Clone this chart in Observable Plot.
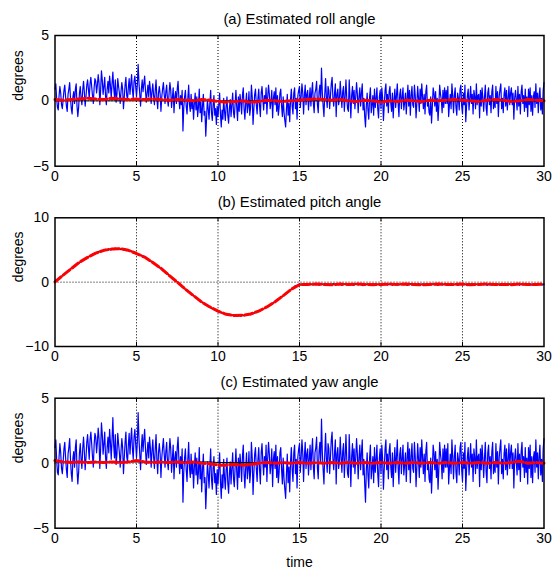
<!DOCTYPE html>
<html><head><meta charset="utf-8">
<script src="https://cdn.jsdelivr.net/npm/d3@7"></script>
<script src="https://cdn.jsdelivr.net/npm/@observablehq/plot@0.6"></script>
<style>
body{margin:0;background:#fff;}
#chart svg{display:block;}
</style>
</head><body><div id="chart"></div>
<script>
// ---------- data ----------
const panelTitles = ["(a) Estimated roll angle", "(b) Estimated pitch angle", "(c) Estimated yaw angle"];
const yLabel = "degrees";
const xLabel = "time";
const xTicks = [0, 5, 10, 15, 20, 25, 30];
const xGridLines = [5, 10, 15, 20, 25];
const rollTicks = [-5, 0, 5];
const pitchTicks = [-10, 0, 10];
const yawTicks = [-5, 0, 5];

const noisyStep = 0.05;   // seconds between roll / yaw measured samples
const pitchStep = 0.1;    // seconds between pitch measured samples
const estimateStep = 0.5; // seconds between estimate / true samples

// (a) roll: measured (blue)
const rollMeasured = [
0.9,1.3,0.2,-0.5,-0.7,0.4,1.1,0.6,-0.3,-0.6,
0.1,0.8,1.2,0.3,-0.4,-0.8,0.5,0.9,1.4,0.2,
-0.6,-1.0,0.3,0.7,-0.2,0.9,1.3,-0.4,-1.2,-0.5,
0.6,1.1,0.2,-0.3,0.8,1.5,0.7,-0.4,0.3,1.2,
1.6,0.9,0.2,1.3,1.8,1.1,0.4,-0.2,1.0,1.7,
1.5,0.6,1.2,2.0,1.4,-0.3,0.8,2.3,1.6,0.5,
1.1,1.8,0.4,-0.3,0.9,1.5,0.6,1.9,1.2,0.2,
1.3,2.2,1.0,0.3,1.6,-0.1,0.5,1.7,1.1,0.6,
-0.2,0.7,1.4,0.9,-0.6,0.3,1.2,1.8,0.4,0.1,
1.0,1.7,0.5,1.3,2.0,0.8,0.2,1.5,1.9,1.1,
0.3,1.2,2.8,1.4,0.5,-0.4,0.9,1.6,0.7,1.3,
1.9,0.8,-0.1,0.6,1.2,0.3,1.5,0.9,-0.2,0.7,
1.3,0.4,-0.3,0.8,1.6,0.2,-0.6,0.6,1.1,0.5,
-0.8,0.3,0.9,1.4,0.5,-0.2,0.7,1.2,0.1,-0.4,
0.6,1.4,0.8,-0.5,0.2,1.0,-0.9,0.3,0.7,-0.2,
0.9,1.5,0.2,-0.6,0.4,-0.3,0.8,-2.3,-0.5,0.3,
0.8,-0.4,-1.0,0.2,1.2,-0.3,-0.8,0.5,-0.6,0.1,
-1.4,-0.2,0.6,-0.7,0.3,-1.2,-0.5,0.9,-0.9,-0.1,
-1.6,-0.4,0.5,-1.1,-0.8,-2.7,-1.3,0.1,-0.6,-1.4,
-0.2,0.8,-0.9,-1.5,-0.3,0.4,-1.1,-0.6,-1.8,-0.4,
-1.2,-0.3,0.6,-1.0,-2.0,-0.7,-1.4,0.2,-0.8,-1.5,
-0.4,0.3,-1.1,-1.7,-0.6,0.1,-1.2,-0.3,0.6,-0.9,
-1.3,-0.2,0.8,-0.5,-1.5,0.3,-0.8,0.5,-0.1,-1.0,
0.4,1.0,-0.6,-1.4,-0.2,0.6,-0.9,-0.4,0.7,-1.1,
-0.5,1.2,0.3,-1.8,-0.6,0.5,0.9,-0.3,-1.0,0.2,
0.9,-0.4,-1.2,0.6,1.1,0.1,-0.7,0.4,-0.2,1.0,
-1.0,0.3,1.2,0.5,-0.6,-0.1,0.8,-1.3,0.2,0.7,
-0.3,1.0,-0.8,0.4,-1.1,-0.5,0.6,0.9,-0.4,-1.2,
0.3,-0.9,-1.5,-2.0,-0.6,0.5,-1.1,-0.2,-1.6,0.1,
0.9,-0.4,-1.0,0.6,1.0,-0.6,0.2,-1.4,0.4,0.8,
1.1,-0.5,0.3,1.3,0.6,-1.0,0.4,1.2,-0.3,0.5,
0.8,-0.7,0.2,1.0,-0.4,0.7,1.4,-0.2,-0.9,0.6,
0.9,1.5,-0.3,-0.9,0.7,1.2,0.1,2.5,0.6,-0.4,
-1.2,0.5,1.7,0.3,-0.5,1.1,0.8,-0.6,0.4,1.3,
1.8,0.2,-0.4,0.6,1.3,-1.2,0.5,0.9,-0.3,0.1,
1.5,0.4,-0.5,0.7,1.1,-0.8,0.3,1.6,0.2,-0.6,
-0.8,1.6,0.2,-1.3,0.4,1.1,-0.2,0.8,-0.6,0.3,
1.4,0.5,-0.9,0.3,1.0,-0.4,0.6,1.3,-0.7,0.2,
-1.2,-2.0,-0.4,0.6,-0.7,-1.4,0.3,1.0,-0.9,-0.3,
0.4,-1.1,0.9,-0.5,0.2,1.0,-0.6,-1.3,0.3,0.8,
-0.6,1.0,0.2,-1.5,-0.3,0.8,1.3,-0.4,0.5,-0.9,
0.7,1.1,-0.2,-0.8,0.6,-1.3,0.1,0.9,-0.5,0.4,
1.3,-0.2,-1.2,0.5,0.9,-0.6,0.3,1.0,-0.7,-0.1,
0.6,-1.0,0.2,1.2,-0.4,0.8,-1.1,0.4,1.1,-0.3,
-0.5,1.2,0.4,-1.3,-0.2,1.1,0.2,-0.8,0.9,-0.2,
1.3,0.3,-0.6,0.5,-1.0,0.7,1.2,-0.4,0.1,-0.9,
-1.1,0.3,-1.7,-0.4,1.0,0.6,-0.4,0.7,-0.8,0.2,
-1.5,-0.3,1.2,0.5,0.1,-0.9,0.8,-0.5,1.0,-0.2,
0.8,-0.2,1.1,-1.2,-0.3,0.5,-0.6,1.3,0.4,-0.9,
0.4,1.0,-0.5,-1.1,0.6,0.2,-0.7,0.9,1.2,-0.4,
-1.0,0.6,-0.3,1.2,-1.6,-0.4,0.4,0.9,-0.7,0.2,
1.1,-0.2,0.5,-1.0,0.8,0.3,-0.6,1.3,-0.3,0.4,
0.5,-1.3,0.8,-0.4,1.0,0.2,-0.8,0.3,1.2,-0.5,
-1.1,0.6,1.0,-0.3,0.4,-0.9,0.7,1.2,-0.6,0.1,
-0.5,1.1,-0.2,0.7,-1.2,0.3,0.9,1.3,-0.6,0.2,
-0.9,0.5,1.0,-0.4,0.8,-0.7,0.2,1.1,-0.3,0.6,
1.0,-0.3,0.6,-1.4,0.2,0.8,0.1,-0.7,1.1,-0.4,
0.5,-1.0,0.7,1.2,-0.2,0.4,-0.8,0.9,-0.5,0.3,
-1.2,0.9,-0.3,1.0,-0.8,0.4,-1.1,0.3,0.7,-0.5,
1.3,-0.2,0.6,-0.9,0.4,1.0,-0.7,0.2,-1.0,0.8,
1.4];
// (a) roll: estimate (red dashed)
const rollEstimate = [
0.1,0.05,0.1,0.15,0.2,0.15,0.1,0.2,0.15,0.1,0.15,
0.1,0.15,0.1,0.05,0.1,0.05,0.0,0.1,0.05,-0.05,
-0.1,-0.05,0.0,-0.1,-0.05,0.05,0.0,-0.05,0.0,0.05,
0.1,0.15,0.1,0.05,0.1,0.0,-0.05,0.05,0.0,-0.1,
0.0,-0.05,0.05,0.0,-0.05,0.05,0.0,0.05,0.1,0.05,
0.0,-0.05,0.05,0.1,0.05,-0.05,0.0,0.1,0.05,0.0];
// (a) roll: true (black)
const rollTrue = [0,0,0,0,0,0,0,0,0,0,0,0,0,0,0,0,0,0,0,0,0,0,0,0,0,0,0,0,0,0,0,
0,0,0,0,0,0,0,0,0,0,0,0,0,0,0,0,0,0,0,0,0,0,0,0,0,0,0,0,0,0];

// (b) pitch: measured (blue)
const pitchMeasured = [
0.05,0.1,0.5,0.55,0.95,1.0,1.35,1.4,1.8,1.85,
2.2,2.2,2.6,2.6,2.95,2.95,3.3,3.3,3.6,3.65,
3.8,4.1,4.05,4.35,4.3,4.6,4.5,4.8,4.7,4.95,
4.85,5.1,4.95,5.2,5.0,5.25,5.05,5.3,5.1,5.25,
5.05,5.2,5.0,5.15,4.9,5.0,4.8,4.85,4.6,4.65,
4.4,4.45,4.15,4.2,3.9,3.95,3.6,3.6,3.3,3.3,
2.95,2.95,2.6,2.6,2.2,2.2,1.8,1.8,1.4,1.4,
1.0,0.95,0.55,0.5,0.1,0.1,-0.3,-0.35,-0.75,-0.8,
-1.15,-1.2,-1.6,-1.6,-2.0,-2.05,-2.4,-2.4,-2.8,-2.8,
-3.15,-3.15,-3.5,-3.5,-3.8,-3.8,-4.1,-4.1,-4.35,-4.35,
-4.6,-4.55,-4.8,-4.75,-4.95,-4.9,-5.1,-5.0,-5.2,-5.1,
-5.3,-5.15,-5.3,-5.15,-5.3,-5.1,-5.25,-5.05,-5.15,-4.95,
-5.05,-4.8,-4.9,-4.65,-4.7,-4.4,-4.45,-4.2,-4.2,-3.95,
-3.9,-3.65,-3.6,-3.35,-3.25,-3.0,-2.9,-2.6,-2.55,-2.25,
-2.15,-1.85,-1.75,-1.45,-1.35,-1.05,-0.95,-0.6,-0.55,-0.45,
-0.3,-0.45,-0.25,-0.4,-0.3,-0.5,-0.25,-0.35,-0.45,-0.3,
-0.4,-0.25,-0.5,-0.3,-0.35,-0.45,-0.2,-0.4,-0.3,-0.5,
-0.35,-0.25,-0.45,-0.3,-0.4,-0.2,-0.5,-0.3,-0.35,-0.45,
-0.25,-0.4,-0.3,-0.5,-0.35,-0.25,-0.45,-0.3,-0.4,-0.55,
-0.3,-0.4,-0.25,-0.45,-0.35,-0.3,-0.5,-0.25,-0.4,-0.3,
-0.45,-0.3,-0.35,-0.2,-0.45,-0.35,-0.3,-0.5,-0.25,-0.4,
-0.3,-0.45,-0.35,-0.25,-0.4,-0.3,-0.5,-0.35,-0.25,-0.45,
-0.35,-0.3,-0.45,-0.25,-0.4,-0.35,-0.3,-0.5,-0.3,-0.4,
-0.25,-0.45,-0.3,-0.4,-0.35,-0.5,-0.25,-0.35,-0.45,-0.3,
-0.4,-0.3,-0.45,-0.25,-0.35,-0.4,-0.3,-0.5,-0.35,-0.25,
-0.45,-0.3,-0.4,-0.55,-0.3,-0.35,-0.25,-0.45,-0.3,-0.4,
-0.35,-0.45,-0.25,-0.4,-0.3,-0.5,-0.35,-0.3,-0.45,-0.25,
-0.4,-0.3,-0.35,-0.5,-0.25,-0.4,-0.3,-0.45,-0.35,-0.3,
-0.45,-0.25,-0.4,-0.35,-0.3,-0.5,-0.3,-0.4,-0.25,-0.45,
-0.35,-0.3,-0.45,-0.4,-0.25,-0.5,-0.35,-0.3,-0.4,-0.45,
-0.35];
// (b) pitch: estimate (red dashed)
const pitchEstimate = [
0.05,1.1,2.1,3.1,3.85,4.5,4.95,5.15,5.2,4.95,4.45,3.9,3.05,2.15,1.05,0.0,
-1.1,-2.1,-3.1,-3.85,-4.5,-5.0,-5.2,-5.15,-4.95,-4.5,-3.85,-3.05,-2.1,-1.1,-0.4,
-0.35,-0.3,-0.35,-0.4,-0.3,-0.35,-0.3,-0.35,-0.4,-0.35,-0.3,-0.35,-0.3,-0.35,-0.4,
-0.35,-0.3,-0.35,-0.35,-0.3,-0.4,-0.35,-0.3,-0.35,-0.35,-0.4,-0.3,-0.35,-0.35,-0.3];
// (b) pitch: true (black)
const pitchTrue = [
0,1.08,2.12,3.06,3.86,4.50,4.95,5.17,5.17,4.95,4.50,3.86,3.06,2.12,1.08,0,
-1.08,-2.12,-3.06,-3.86,-4.50,-4.95,-5.17,-5.17,-4.95,-4.50,-3.86,-3.06,-2.12,-1.08,-0.3,
-0.3,-0.3,-0.3,-0.3,-0.3,-0.3,-0.3,-0.3,-0.3,-0.3,-0.3,-0.3,-0.3,-0.3,-0.3,
-0.3,-0.3,-0.3,-0.3,-0.3,-0.3,-0.3,-0.3,-0.3,-0.3,-0.3,-0.3,-0.3,-0.3,-0.3];

// (c) yaw: measured (blue)
const yawMeasured = [
1.2,1.8,0.3,-0.7,-0.9,0.5,1.5,0.8,-0.4,-0.8,
0.1,1.1,1.6,0.4,-0.5,-1.1,0.7,1.2,1.9,0.3,
-0.8,-1.4,0.4,0.9,-0.3,1.2,1.8,-0.5,-1.6,-0.7,
0.8,1.5,0.3,-0.4,1.1,2.0,0.9,-0.5,0.4,1.6,
2.2,1.2,0.3,1.8,2.4,1.5,0.5,-0.3,1.4,2.3,
2.0,0.8,1.6,2.7,1.9,-0.4,1.1,3.1,2.2,0.7,
1.5,2.4,0.5,-0.4,1.2,2.0,0.8,2.6,1.6,0.3,
1.8,3.5,1.4,0.4,2.2,-0.1,0.7,2.3,1.5,0.8,
-0.3,0.9,1.9,1.2,-0.8,0.4,1.6,2.4,0.5,0.1,
1.4,2.3,0.7,1.8,2.7,1.1,0.3,2.0,2.6,1.5,
0.4,1.6,3.9,1.9,0.7,-0.5,1.2,2.2,0.9,1.8,
2.6,1.1,-0.1,0.8,1.6,0.4,2.0,1.2,-0.3,0.9,
1.8,0.5,-0.4,1.1,2.2,0.3,-0.8,0.8,1.5,0.7,
-1.1,0.4,1.2,1.9,0.7,-0.3,0.9,1.6,0.1,-0.5,
0.8,1.9,1.1,-0.7,0.3,1.4,-1.2,0.4,0.9,-0.3,
1.2,2.0,0.3,-0.8,0.5,-0.4,1.1,-3.0,-0.7,0.4,
1.1,-0.5,-1.4,0.3,1.6,-0.4,-1.1,0.7,-0.8,0.1,
-1.9,-0.3,0.8,-0.9,0.4,-1.6,-0.7,1.2,-1.2,-0.1,
-2.2,-0.5,0.7,-1.5,-1.1,-3.5,-1.8,0.1,-0.8,-1.9,
-0.3,1.1,-1.2,-2.0,-0.4,0.5,-1.5,-0.8,-2.4,-0.5,
-1.6,-0.4,0.8,-1.4,-2.7,-0.9,-1.9,0.3,-1.1,-2.0,
-0.5,0.4,-1.5,-2.3,-0.8,0.1,-1.6,-0.4,0.8,-1.2,
-1.8,-0.3,1.1,-0.7,-2.0,0.4,-1.1,0.7,-0.1,-1.4,
0.5,1.4,-0.8,-1.9,-0.3,0.8,-1.2,-0.5,0.9,-1.5,
-0.7,1.6,0.4,-2.4,-0.8,0.7,1.2,-0.4,-1.4,0.3,
1.2,-0.5,-1.6,0.8,1.5,0.1,-0.9,0.5,-0.3,1.4,
-1.4,0.4,1.6,0.7,-0.8,-0.1,1.1,-1.8,0.3,0.9,
-0.4,1.4,-1.1,0.5,-1.5,-0.7,0.8,1.2,-0.5,-1.6,
0.4,-1.2,-2.0,-2.7,-0.8,0.7,-1.5,-0.3,-2.2,0.1,
1.2,-0.5,-1.4,0.8,1.4,-0.8,0.3,-1.9,0.5,1.1,
1.5,-0.7,0.4,1.8,0.8,-1.4,0.5,1.6,-0.4,0.7,
1.1,-0.9,0.3,1.4,-0.5,0.9,1.9,-0.3,-1.2,0.8,
1.2,2.0,-0.4,-1.2,0.9,1.6,0.1,3.4,0.8,-0.5,
-1.6,0.7,2.3,0.4,-0.7,1.5,1.1,-0.8,0.5,1.8,
2.4,0.3,-0.5,0.8,1.8,-1.6,0.7,1.2,-0.4,0.1,
2.0,0.5,-0.7,0.9,1.5,-1.1,0.4,2.2,0.3,-0.8,
-1.1,2.2,0.3,-1.8,0.5,1.5,-0.3,1.1,-0.8,0.4,
1.9,0.7,-1.2,0.4,1.4,-0.5,0.8,1.8,-0.9,0.3,
-1.6,-3.0,-0.5,0.8,-0.9,-1.9,0.4,1.4,-1.2,-0.4,
0.5,-1.5,1.2,-0.7,0.3,1.4,-0.8,-1.8,0.4,1.1,
-0.8,1.4,0.3,-2.0,-0.4,1.1,1.8,-0.5,0.7,-1.2,
0.9,1.5,-0.3,-1.1,0.8,-1.8,0.1,1.2,-0.7,0.5,
1.8,-0.3,-1.6,0.7,1.2,-0.8,0.4,1.4,-0.9,-0.1,
0.8,-1.4,0.3,1.6,-0.5,1.1,-1.5,0.5,1.5,-0.4,
-0.7,1.6,0.5,-1.8,-0.3,1.5,0.3,-1.1,1.2,-0.3,
1.8,0.4,-0.8,0.7,-1.4,0.9,1.6,-0.5,0.1,-1.2,
-1.5,0.4,-2.3,-0.5,1.4,0.8,-0.5,0.9,-1.1,0.3,
-2.0,-0.4,1.6,0.7,0.1,-1.2,1.1,-0.7,1.4,-0.3,
1.1,-0.3,1.5,-1.6,-0.4,0.7,-0.8,1.8,0.5,-1.2,
0.5,1.4,-0.7,-1.5,0.8,0.3,-0.9,1.2,1.6,-0.5,
-1.4,0.8,-0.4,1.6,-2.1,-0.5,0.5,1.2,-0.9,0.3,
1.5,-0.3,0.7,-1.4,1.1,0.4,-0.8,1.8,-0.4,0.5,
0.7,-1.8,1.1,-0.5,1.4,0.3,-1.1,0.4,1.6,-0.7,
-1.5,0.8,1.4,-0.4,0.5,-1.2,0.9,1.6,-0.8,0.1,
-0.7,1.5,-0.3,0.9,-1.6,0.4,1.2,1.8,-0.8,0.3,
-1.2,0.7,1.4,-0.5,1.1,-0.9,0.3,1.5,-0.4,0.8,
1.4,-0.4,0.8,-1.9,0.3,1.1,0.1,-0.9,1.5,-0.5,
0.7,-1.4,0.9,1.6,-0.3,0.5,-1.1,1.2,-0.7,0.4,
-1.6,1.2,-0.4,1.4,-1.1,0.5,-1.5,0.4,0.9,-0.7,
1.8,-0.3,0.8,-1.2,0.5,1.4,-0.9,0.3,-1.4,1.1,
1.9];
// (c) yaw: estimate (red dashed)
const yawEstimate = [
0.2,0.1,0.05,0.1,0.05,0.1,0.05,0.1,0.05,0.1,0.2,
0.1,0.05,0.1,0.05,0.1,0.05,0.1,0.0,-0.05,-0.15,
-0.15,-0.1,-0.15,-0.1,0.0,0.05,0.0,0.05,0.0,0.05,
0.0,0.05,0.0,0.05,0.0,0.05,0.0,0.05,0.0,0.05,
0.0,0.05,0.0,0.05,0.0,0.05,0.0,0.05,0.0,0.05,
0.0,0.05,0.0,0.05,0.0,0.05,0.15,0.0,0.05,0.0];
// (c) yaw: true (black)
const yawTrue = [0.1,0.1,0.1,0.1,0.1,0.1,0.1,0.1,0.1,0.1,0.1,0.1,0.1,0.1,0.1,0.1,0.1,0.1,0.1,0.1,0.05,
0.05,0.05,0.05,0.05,0.05,0.05,0.05,0.05,0.05,0.05,0.05,0.05,0.05,0.05,0.05,0.05,0.05,0.05,0.05,0.05,
0.05,0.05,0.05,0.05,0.05,0.05,0.05,0.05,0.05,0.05,0.05,0.05,0.05,0.05,0.05,0.05,0.05,0.05,0.05,0.05];

// ---------- drawing ----------
const toSeries = (values, step) => values.map((v, i) => ({t: i * step, v}));
const FONT = "'Liberation Sans', Arial, Helvetica, sans-serif";

function panel({title, ticks, measured, measuredStep, estimate, truth, height, marginTop, marginBottom, xTitle}) {
  const marginLeft = 54.5, marginRight = 9.5;
  const innerH = height - marginTop - marginBottom;
  const lo = ticks[0], hi = ticks[ticks.length - 1];
  const marks = [
    Plot.ruleX(xGridLines, {stroke: "black", strokeWidth: 1, strokeDasharray: "1,2"}),
    Plot.ruleY(ticks.filter(d => d !== lo && d !== hi), {stroke: "black", strokeWidth: 1, strokeDasharray: "1,2"}),
    Plot.line(toSeries(measured, measuredStep), {x: "t", y: "v", stroke: "#0000ff", strokeWidth: 1.2}),
    Plot.line(toSeries(truth, estimateStep), {x: "t", y: "v", stroke: "black", strokeWidth: 1}),
    Plot.line(toSeries(estimate, estimateStep), {x: "t", y: "v", stroke: "#ff0000", strokeWidth: 3, strokeDasharray: "8,3"}),
    // inward ticks
    Plot.tickX(xGridLines, {x: d => d, insetTop: innerH - 4, stroke: "black"}),
    Plot.tickX(xGridLines, {x: d => d, insetBottom: innerH - 4, stroke: "black"}),
    Plot.frame({stroke: "black", strokeWidth: 1.5}),
    Plot.axisX(xTicks, {tickSize: 0, tickPadding: 5, fontSize: 14, label: null}),
    Plot.axisY(ticks, {tickSize: 0, tickPadding: 6, fontSize: 14, label: null}),
    Plot.text([title], {text: d => d, frameAnchor: "top", dy: -16, lineAnchor: "middle", fontSize: 14.8}),
    Plot.text([yLabel], {text: d => d, frameAnchor: "left", dx: -36, rotate: -90, lineAnchor: "middle", fontSize: 14})
  ];
  if (xTitle) marks.push(Plot.text([xTitle], {text: d => d, frameAnchor: "bottom", dy: 34, lineAnchor: "middle", fontSize: 14}));
  return Plot.plot({
    width: 553, height, marginLeft, marginRight, marginTop, marginBottom,
    x: {domain: [0, 30]},
    y: {domain: [lo, hi]},
    style: {background: "white", fontFamily: FONT, fontSize: "14px", color: "black", overflow: "visible"},
    marks
  });
}

const root = document.getElementById("chart");
root.append(panel({title: panelTitles[0], ticks: rollTicks, measured: rollMeasured, measuredStep: noisyStep,
  estimate: rollEstimate, truth: rollTrue, height: 185, marginTop: 35, marginBottom: 19.3}));
root.append(panel({title: panelTitles[1], ticks: pitchTicks, measured: pitchMeasured, measuredStep: pitchStep,
  estimate: pitchEstimate, truth: pitchTrue, height: 185, marginTop: 32.3, marginBottom: 24}));
root.append(panel({title: panelTitles[2], ticks: yawTicks, measured: yawMeasured, measuredStep: noisyStep,
  estimate: yawEstimate, truth: yawTrue, height: 199, marginTop: 27.7, marginBottom: 41.3, xTitle: xLabel}));
</script>
</body></html>
